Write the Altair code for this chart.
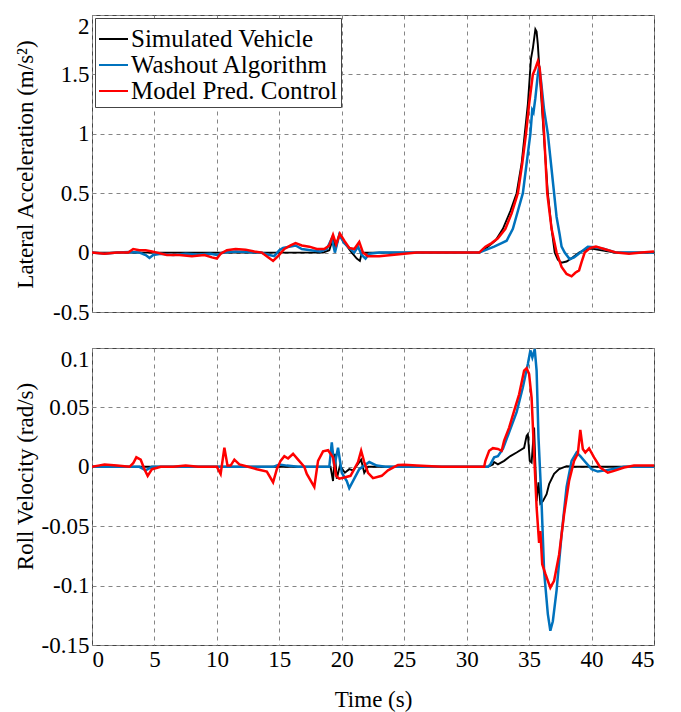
import altair as alt
import pandas as pd

SERIES = ["Simulated Vehicle", "Washout Algorithm", "Model Pred. Control"]
COLORS = ["#000000", "#0072BD", "#FF0000"]
WIDTHS = [1.9, 2.5, 2.5]
x_ticks = [0, 5, 10, 15, 20, 25, 30, 35, 40, 45]
acc_ticks = [-0.5, 0, 0.5, 1, 1.5, 2]
roll_ticks = [-0.15, -0.1, -0.05, 0, 0.05, 0.1]

# ---------- Lateral acceleration (m/s^2) ----------
sv_acc_t = [0, 18.5, 19.0, 19.3, 19.5, 19.8, 20.3, 20.8, 21.2, 21.45, 21.6, 22.0,
            31.0, 31.7, 32.3, 32.9, 33.5, 34.0, 34.4, 34.65, 34.9, 35.15, 35.3, 35.5,
            35.6, 35.7, 35.85, 36.17, 36.5, 36.8, 37.05, 37.3, 37.6, 38.0, 38.5, 39.0,
            39.5, 40.0, 40.8, 41.9, 45.0]
sv_acc_v = [0, 0, 0.02, 0.12, 0.03, 0.15, 0.07, 0.0, -0.05, -0.07, 0.0, 0.0,
            0.0, 0.05, 0.1, 0.2, 0.35, 0.5, 0.75, 1.0, 1.25, 1.63, 1.72, 1.88,
            1.86, 1.75, 1.5, 1.0, 0.5, 0.2, 0.0, -0.06, -0.085, -0.075, -0.04, 0.0,
            0.025, 0.035, 0.02, 0.0, 0.0]

wa_acc_t = [0, 1, 2, 3, 3.8, 4.3, 4.6, 4.9, 5.5, 6.5, 7.5, 8.5, 9.5, 10.0, 10.5,
            11.5, 12.5, 13.5, 14.2, 14.6, 15.0, 15.3, 15.8, 16.3, 16.8, 17.5, 18.3,
            18.8, 19.2, 19.45, 19.8, 20.2, 20.6, 21.0, 21.3, 21.6, 21.9, 22.2, 23, 26,
            29, 31, 32.2, 32.8, 33.2, 33.7, 34.1, 34.5, 34.8, 35.1, 35.25, 35.35, 35.5,
            35.7, 35.8, 35.95, 36.2, 36.5, 36.75, 37.0, 37.2, 37.45, 37.6, 37.85, 38.25,
            38.6, 39.1, 39.7, 40.3, 41, 42, 45]
wa_acc_v = [0, -0.01, 0.0, 0.005, 0.0, -0.02, -0.045, -0.02, -0.01, -0.02, -0.01,
            -0.015, -0.01, -0.02, 0.0, 0.01, 0.005, 0.0, -0.02, -0.03, 0.02, 0.04,
            0.05, 0.06, 0.03, 0.02, 0.01, 0.03, 0.12, 0.0, 0.15, 0.08, 0.04, 0.0, 0.05,
            -0.02, -0.05, -0.01, 0.0, 0.0, 0.0, 0.0, 0.05, 0.08, 0.1, 0.2, 0.35, 0.5,
            0.75, 1.0, 1.2, 1.18, 1.3, 1.5, 1.57, 1.45, 1.2, 1.0, 0.75, 0.5, 0.3, 0.15,
            0.05, 0.0, -0.055, -0.04, 0.0, 0.05, 0.045, 0.03, 0.0, 0.0]

mpc_acc_t = [0, 1, 2, 2.9, 3.3, 3.8, 4.3, 4.8, 5.2, 6, 7, 8, 9, 9.6, 10.0, 10.3,
             10.8, 11.5, 12.3, 13.0, 13.6, 14.1, 14.5, 14.9, 15.4, 15.9, 16.3, 16.8,
             17.4, 18.0, 18.6, 19.0, 19.3, 19.55, 19.85, 20.2, 20.6, 21.0, 21.4, 21.7,
             22.1, 23, 24, 25, 26, 31.0, 31.5, 32.0, 32.5, 33.1, 33.6, 34.1, 34.45,
             34.75, 35.0, 35.3, 35.5, 35.7, 35.85, 36.0, 36.2, 36.45, 36.8, 37.2, 37.6,
             38.0, 38.4, 38.7, 39.0, 39.2, 39.45, 39.9, 40.35, 41, 42, 43, 44, 45]
mpc_acc_v = [0, -0.01, 0.0, 0.0, 0.03, 0.02, 0.02, 0.01, 0.0, -0.02, -0.02, -0.03,
             -0.02, -0.04, -0.05, -0.01, 0.02, 0.03, 0.025, 0.01, 0.0, -0.04, -0.07,
             -0.03, 0.03, 0.06, 0.08, 0.06, 0.05, 0.03, 0.03, 0.06, 0.15, 0.07, 0.16,
             0.1, 0.04, 0.03, 0.09, 0.0, -0.03, -0.03, -0.02, -0.01, 0.0, 0.0, 0.05,
             0.08, 0.12, 0.2, 0.33, 0.5, 0.75, 1.0, 1.25, 1.5, 1.55, 1.61, 1.55, 1.35,
             1.0, 0.5, 0.2, 0.0, -0.12, -0.18, -0.2, -0.17, -0.15, -0.08, 0.0, 0.04,
             0.05, 0.03, 0.0, -0.01, 0.0, 0.01]

# ---------- Roll velocity (rad/s) ----------
sv_roll_t = [0, 19.1, 19.3, 19.45, 19.6, 19.85, 20.25, 20.6, 20.9, 21.2, 21.55, 21.8,
             22.1, 31.7, 32.1, 32.2, 32.5, 33.0, 33.5, 34.0, 34.6, 34.8, 34.9, 35.05,
             35.2, 35.4, 35.6, 35.75, 35.9, 36.1, 36.4, 36.6, 37.0, 37.4, 38.0, 38.6, 45]
sv_roll_v = [0, 0.0, -0.012, 0.011, -0.01, 0.001, -0.005, -0.002, -0.003, 0.001,
             0.006, -0.005, 0.0, 0.0, 0.002, 0.004, 0.002, 0.005, 0.009, 0.012, 0.016,
             0.026, 0.0275, 0.005, 0.0036, 0.033, -0.029, -0.013, -0.031, -0.029,
             -0.023, -0.0146, -0.006, -0.002, 0.0005, 0.0, 0.0]

wa_roll_t = [0, 3.8, 4.3, 4.8, 10, 14.5, 15, 15.6, 16.5, 19.0, 19.2, 19.4, 19.7,
             20.0, 20.4, 20.6, 21.0, 21.4, 21.8, 22.2, 22.8, 23.5, 31.7, 31.9, 32.2,
             32.5, 32.9, 33.4, 34.0, 34.5, 34.9, 35.1, 35.26, 35.45, 35.6, 35.75, 36.0,
             36.2, 36.5, 36.7, 36.9, 37.2, 37.6, 38.0, 38.4, 38.8, 39.1, 39.5, 40.0,
             40.5, 41.1, 41.6, 42.6, 45]
wa_roll_v = [0, 0.0, -0.003, 0.0, 0.0, 0.0, 0.002, 0.001, 0.0, 0.0, 0.0205, 0.0,
             0.016, -0.005, -0.012, -0.018, -0.01, -0.002, 0.001, 0.004, 0.001, 0.0,
             0.0, 0.002, 0.008, 0.009, 0.015, 0.029, 0.046, 0.067, 0.0865, 0.098,
             0.092, 0.099, 0.081, 0.025, -0.031, -0.088, -0.124, -0.138, -0.13,
             -0.104, -0.057, -0.017, 0.005, 0.012, 0.009, 0.004, -0.002, -0.004,
             -0.003, -0.002, 0.0, 0.0]

mpc_roll_t = [0, 0.5, 1, 2, 3.0, 3.3, 3.55, 3.9, 4.2, 4.46, 4.8, 5.5, 6.5, 7.5, 8.5,
              9.5, 10.0, 10.3, 10.6, 10.85, 11.1, 11.4, 11.8, 12.5, 13.2, 14.0, 14.5,
              14.8, 15.1, 15.4, 15.7, 16.1, 16.5, 17.0, 17.2, 17.8, 18.1, 18.5, 18.9,
              19.3, 19.55, 19.8, 20.2, 20.7, 21.3, 21.55, 21.8, 22.1, 22.5, 23.2, 23.7,
              24.5, 25.0, 26, 28, 31.4, 31.5, 31.8, 32.1, 32.5, 32.8, 33.0, 33.4, 33.8,
              34.2, 34.6, 34.8, 35.0, 35.2, 35.4, 35.6, 35.8, 35.9, 36.05, 36.3, 36.7,
              37.0, 37.4, 37.8, 38.2, 38.6, 38.9, 39.1, 39.3, 39.5, 39.8, 40.2, 40.7,
              41.3, 41.8, 42.6, 43.4, 45]
mpc_roll_v = [0.0, 0.001, 0.002, 0.001, 0.0, 0.003, 0.008, 0.006, -0.002, -0.0076,
              -0.002, 0.0, 0.0, 0.001, 0.0, 0.0, 0.0, -0.006, 0.016, 0.001, 0.001,
              0.006, 0.002, 0.0, -0.002, -0.004, -0.013, -0.002, 0.005, 0.009, 0.007,
              0.011, 0.006, 0.0, -0.006, -0.017, 0.005, 0.013, 0.014, 0.008, -0.0076,
              -0.01, -0.009, -0.0076, 0.004, 0.0135, 0.004, -0.005, -0.0095, -0.0076,
              -0.003, 0.0015, 0.0017, 0.001, 0.0, 0.0, 0.005, 0.0135, 0.0157, 0.015,
              0.0135, 0.022, 0.033, 0.047, 0.061, 0.081, 0.083, 0.078, 0.058, 0.011,
              -0.034, -0.064, -0.054, -0.082, -0.09, -0.1017, -0.096, -0.074, -0.04,
              -0.012, 0.005, 0.011, 0.031, 0.015, 0.012, 0.0155, 0.008, -0.0006,
              -0.005, -0.0034, -0.0006, 0.001, 0.001]

FONT = "Liberation Serif"


def long_frame(pairs):
    rows = []
    for name, (ts, vs) in zip(SERIES, pairs):
        for t, v in zip(ts, vs):
            rows.append({"t": t, "v": v, "series": name})
    return pd.DataFrame(rows)


acc_df = long_frame([(sv_acc_t, sv_acc_v), (wa_acc_t, wa_acc_v), (mpc_acc_t, mpc_acc_v)])
roll_df = long_frame([(sv_roll_t, sv_roll_v), (wa_roll_t, wa_roll_v), (mpc_roll_t, mpc_roll_v)])


def panel(df, ydom, yticks, ytitle, bottom, title_y, legend):
    if bottom:
        xenc = alt.X("t:Q", scale=alt.Scale(domain=[0, 45], nice=False),
                     title="Time (s)",
                     axis=alt.Axis(values=x_ticks, labelPadding=3, titlePadding=17))
    else:
        xenc = alt.X("t:Q", scale=alt.Scale(domain=[0, 45], nice=False),
                     title=None, axis=alt.Axis(values=x_ticks, labels=False))
    yenc = alt.Y("v:Q", scale=alt.Scale(domain=ydom, nice=False, zero=False),
                 title=ytitle,
                 axis=alt.Axis(values=yticks, labelExpr="toString(datum.value)",
                               labelPadding=3,
                               labelBaseline={"condition": {"test": f"datum.value == {ydom[1]}",
                                                            "value": "top"},
                                              "value": "middle"},
                               titleX=-67, titleY=title_y, titleAngle=270,
                               titleBaseline="middle", titleAlign="center"))
    if legend:
        cenc = alt.Color("series:N", scale=alt.Scale(domain=SERIES, range=COLORS),
                         legend=alt.Legend(title=" ", titleFontSize=1, titlePadding=4,
                                           orient="top-left", offset=3,
                                           symbolType="stroke", symbolSize=841,
                                           symbolStrokeWidth=2, labelFont=FONT,
                                           labelFontSize=25, labelColor="black",
                                           labelOffset=2, labelLimit=400,
                                           clipHeight=26,
                                           fillColor="white", strokeColor="#444",
                                           padding=3, rowPadding=0))
    else:
        cenc = alt.Color("series:N", scale=alt.Scale(domain=SERIES, range=COLORS),
                         legend=None)
    layers = []
    for name, w in zip(SERIES, WIDTHS):
        layers.append(
            alt.Chart(df).transform_filter(alt.datum.series == name)
            .mark_line(strokeWidth=w, clip=True)
            .encode(x=xenc, y=yenc, color=cenc)
        )
    return alt.layer(*layers).properties(width=562, height=297)


top = panel(acc_df, [-0.5, 2], acc_ticks, "Lateral Acceleration (m/s²)", False, 149, True)
bot = panel(roll_df, [-0.15, 0.1], roll_ticks, "Roll Velocity (rad/s)", True, 128, False)

chart = (
    alt.vconcat(top, bot, spacing=36, bounds="flush")
    .resolve_scale(color="independent")
    .resolve_legend(color="independent")
    .properties(padding={"left": 5, "top": 6, "right": 0, "bottom": 0},
                background="white")
    .configure(font=FONT)
    .configure_view(stroke="#444", strokeWidth=1)
    .configure_axis(grid=True, gridColor="#858585", gridDash=[4, 4], gridWidth=1,
                    domain=False, ticks=False,
                    labelFont=FONT, labelFontSize=23, labelColor="black",
                    titleFont=FONT, titleFontSize=23, titleFontWeight="normal",
                    titleColor="black")
)

chart.save("out.html", embed_options={"renderer": "svg", "actions": False})
